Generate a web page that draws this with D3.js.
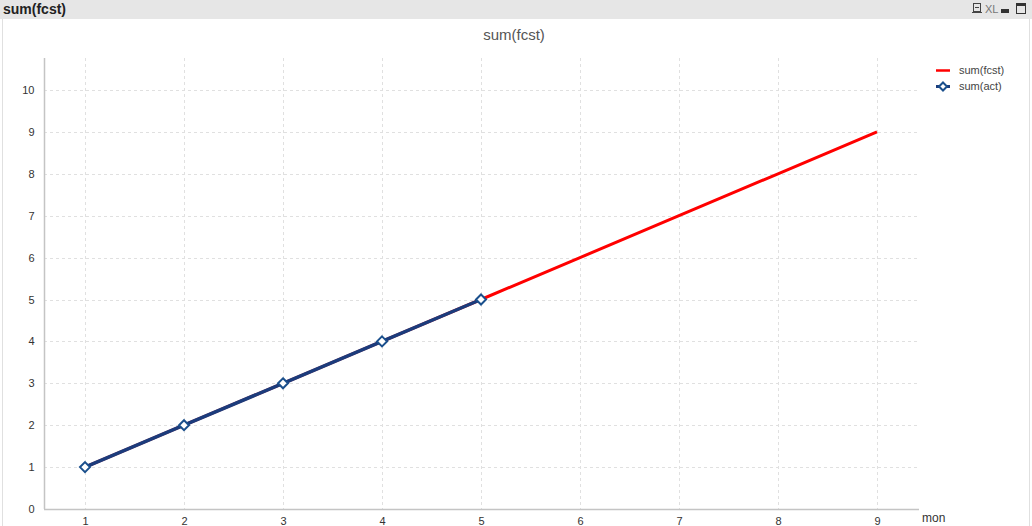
<!DOCTYPE html>
<html><head><meta charset="utf-8">
<script src="https://cdn.jsdelivr.net/npm/d3@7"></script>
<style>
body{margin:0;padding:0;background:#fff;}
svg{display:block;font-family:"Liberation Sans",Arial,sans-serif;}
</style></head>
<body><svg id="c" width="1032" height="526"></svg>
<script>
const months = [1,2,3,4,5,6,7,8,9];
const fcstValues = [1,2,3,4,5,6,7,8,9];
const actMonths = [1,2,3,4,5];
const actValues = [1,2,3,4,5];
const yTicks = [0,1,2,3,4,5,6,7,8,9,10];
const chartTitle = "sum(fcst)";
const seriesNames = ["sum(fcst)","sum(act)"];
const xAxisTitle = "mon";

(function(){
const svg = d3.select("#c");
// window frame
svg.append("rect").attr("x",0).attr("y",0).attr("width",1032).attr("height",19).attr("fill","#e6e6e6");
svg.append("line").attr("x1",2.5).attr("x2",2.5).attr("y1",19).attr("y2",526).attr("stroke","#e0e0e0");
svg.append("line").attr("x1",1029.5).attr("x2",1029.5).attr("y1",19).attr("y2",526).attr("stroke","#e0e0e0");
svg.append("text").attr("x",3).attr("y",14).attr("font-size",14).attr("font-weight","bold").attr("fill","#222").text(chartTitle);
// header icons
const ic = svg.append("g");
ic.append("rect").attr("x",973.5).attr("y",3.5).attr("width",7).attr("height",8).attr("fill","none").attr("stroke","#444");
ic.append("line").attr("x1",972).attr("x2",982).attr("y1",12.5).attr("y2",12.5).attr("stroke","#444");
ic.append("line").attr("x1",975).attr("x2",979).attr("y1",7.5).attr("y2",7.5).attr("stroke","#444");
ic.append("text").attr("x",985).attr("y",13).attr("font-size",11).attr("fill","#777").text("XL");
ic.append("rect").attr("x",1001).attr("y",9).attr("width",8).attr("height",4).attr("fill","#333");
ic.append("rect").attr("x",1016.5).attr("y",3.5).attr("width",9).attr("height",10).attr("fill","none").attr("stroke","#333");
ic.append("line").attr("x1",1016.5).attr("x2",1025.5).attr("y1",5).attr("y2",5).attr("stroke","#333").attr("stroke-width",2);

// title
svg.append("text").attr("x",514).attr("y",40).attr("text-anchor","middle").attr("font-size",15).attr("fill","#555").text(chartTitle);

const pLeft=44, pRight=919, pTop=58, pBottom=509;
const x = d3.scaleLinear().domain([1,9]).range([85,877]);
const y = d3.scaleLinear().domain([0,10]).range([509,90]);

// grid
const g = svg.append("g");
g.selectAll(".vg").data(months).join("line")
  .attr("x1",d=>Math.round(x(d))+0.5).attr("x2",d=>Math.round(x(d))+0.5)
  .attr("y1",pTop).attr("y2",pBottom).attr("stroke","#e0e0e0").attr("stroke-dasharray","3,3");
g.selectAll(".hg").data(yTicks.slice(1)).join("line")
  .attr("y1",d=>Math.round(y(d))+0.5).attr("y2",d=>Math.round(y(d))+0.5)
  .attr("x1",pLeft).attr("x2",pRight).attr("stroke","#e0e0e0").attr("stroke-dasharray","3,3");

// axes
const xAxis = d3.axisBottom(x).tickValues(months).tickSize(0).tickPadding(8).tickFormat(d3.format("d"));
const yAxis = d3.axisLeft(y).tickValues(yTicks).tickSize(0).tickPadding(10).tickFormat(d3.format("d"));
const xa = svg.append("g").attr("transform",`translate(0,${pBottom+0.5})`).call(xAxis);
xa.select(".domain").remove();
xa.selectAll("text").attr("font-size",11).attr("fill","#333").attr("font-family","Liberation Sans, Arial, sans-serif");
const ya = svg.append("g").attr("transform",`translate(${pLeft+0.5},0)`).call(yAxis);
ya.select(".domain").remove();
ya.selectAll("text").attr("font-size",11).attr("fill","#333").attr("font-family","Liberation Sans, Arial, sans-serif");
svg.append("line").attr("x1",pLeft).attr("x2",pRight).attr("y1",pBottom+0.5).attr("y2",pBottom+0.5).attr("stroke","#c4c4c4").attr("stroke-width",1.5);
svg.append("line").attr("x1",pLeft+0.5).attr("x2",pLeft+0.5).attr("y1",pTop).attr("y2",pBottom).attr("stroke","#c4c4c4").attr("stroke-width",1.5);
svg.append("text").attr("x",922).attr("y",522).attr("font-size",12).attr("fill","#333").text(xAxisTitle);

// lines
const line = d3.line().x(d=>x(d[0])).y(d=>y(d[1]));
svg.append("path").datum(months.map((m,i)=>[m,fcstValues[i]])).attr("d",line)
  .attr("fill","none").attr("stroke","#ff0000").attr("stroke-width",3);
svg.append("path").datum(actMonths.map((m,i)=>[m,actValues[i]])).attr("d",line)
  .attr("fill","none").attr("stroke","#1b3c7c").attr("stroke-width",3.5);
const diamond = s => `M0,${-s}L${s},0L0,${s}L${-s},0Z`;
svg.selectAll(".mk").data(actMonths.map((m,i)=>[m,actValues[i]])).join("path")
  .attr("transform",d=>`translate(${x(d[0])},${y(d[1])})`).attr("d",diamond(5))
  .attr("fill","#fff").attr("stroke","#1a4f8c").attr("stroke-width",2);

// legend
const lg = svg.append("g");
lg.append("line").attr("x1",936).attr("x2",950).attr("y1",70.5).attr("y2",70.5).attr("stroke","#ff0000").attr("stroke-width",2.5);
lg.append("text").attr("x",959).attr("y",74).attr("font-size",11).attr("fill","#444").text(seriesNames[0]);
lg.append("line").attr("x1",936).attr("x2",950).attr("y1",86.5).attr("y2",86.5).attr("stroke","#1b3c7c").attr("stroke-width",3);
lg.append("path").attr("transform","translate(943,86.5)").attr("d",diamond(4)).attr("fill","#fff").attr("stroke","#1a4f8c").attr("stroke-width",2);
lg.append("text").attr("x",959).attr("y",90).attr("font-size",11).attr("fill","#444").text(seriesNames[1]);
})();
</script></body></html>
